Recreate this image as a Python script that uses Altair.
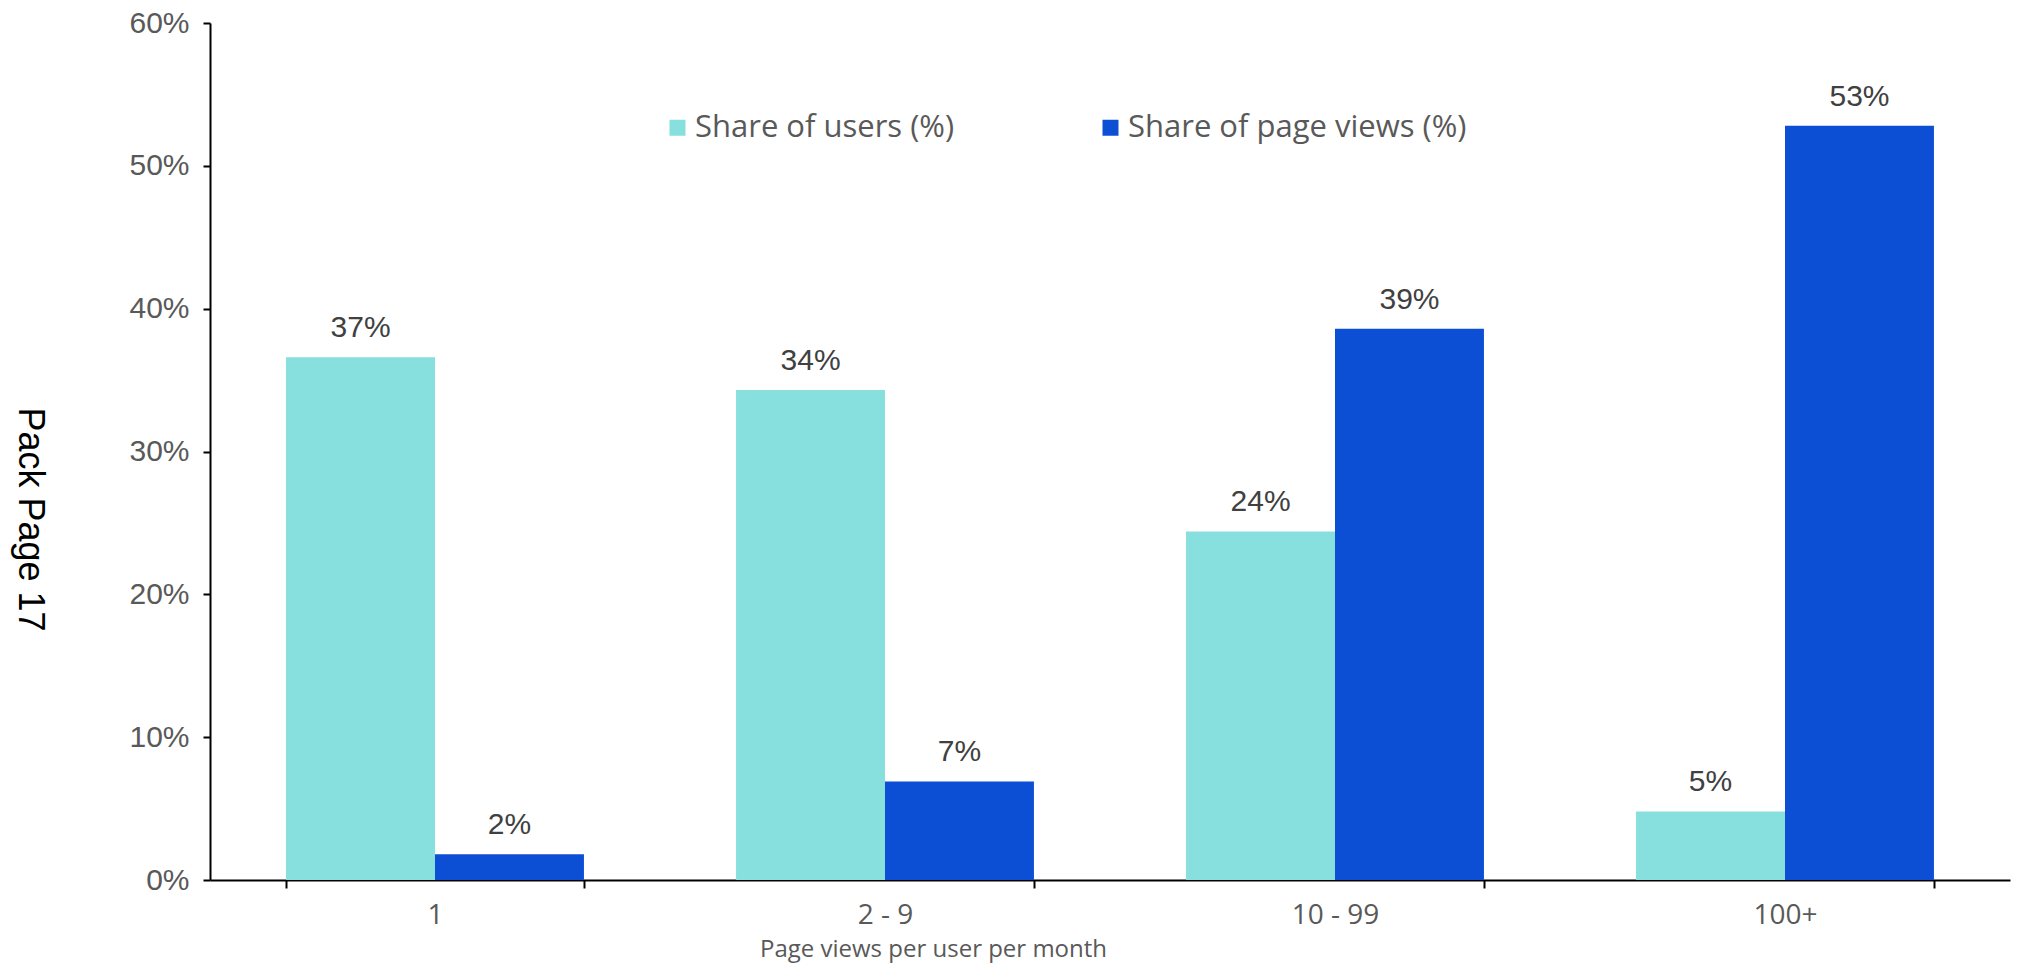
import altair as alt
import pandas as pd

categories = ["1", "2 - 9", "10 - 99", "100+"]
series_names = ["Share of users (%)", "Share of page views (%)"]
users_share = [0.366, 0.343, 0.244, 0.048]
views_share = [0.018, 0.069, 0.386, 0.528]
y_ticks = [0, 0.1, 0.2, 0.3, 0.4, 0.5, 0.6]

rows = []
for c, u, v in zip(categories, users_share, views_share):
    rows.append({"cat": c, "series": series_names[0], "value": u})
    rows.append({"cat": c, "series": series_names[1], "value": v})
df = pd.DataFrame(rows)

colors = ["#87dfde", "#0c4fd4"]

x_enc = alt.X(
    "cat:N",
    sort=categories,
    scale=alt.Scale(paddingInner=0.338, paddingOuter=0.169),
    axis=alt.Axis(
        title="Page views per user per month",
        titleFont="Open Sans",
        titleFontSize=24,
        titleFontWeight="normal",
        titleColor="#595959",
        titleX=723,
        titleY=76,
        titleAlign="center",
        titleBaseline="alphabetic",
        labelAngle=0,
        labelFont="Open Sans",
        labelFontSize=28,
        labelColor="#595959",
        labelPadding=13,
        domainColor="#000000",
        domainWidth=2,
        tickColor="#000000",
        tickWidth=2,
        tickSize=8,
        tickBand="extent",
        grid=False,
    ),
)

y_enc = alt.Y(
    "value:Q",
    scale=alt.Scale(domain=[0, 0.6], nice=False),
    axis=alt.Axis(
        values=y_ticks,
        format=".0%",
        title="Pack Page 17",
        titleFont="Liberation Sans",
        titleFontSize=36,
        titleFontWeight="normal",
        titleColor="#000000",
        titleAngle=90,
        titleX=-181,
        titleY=496,
        titleAlign="center",
        titleBaseline="middle",
        labelFont="Liberation Sans",
        labelFontSize=30,
        labelColor="#595959",
        labelPadding=14,
        domainColor="#000000",
        domainWidth=2,
        tickColor="#000000",
        tickWidth=2,
        tickSize=7,
        grid=False,
    ),
)

color_enc = alt.Color(
    "series:N",
    sort=series_names,
    scale=alt.Scale(domain=series_names, range=colors),
    legend=alt.Legend(
        title=None,
        orient="none",
        legendX=452,
        legendY=89,
        direction="horizontal",
        columns=2,
        symbolType="square",
        symbolSize=256,
        symbolStrokeWidth=0,
        labelFont="Open Sans",
        labelFontSize=31,
        labelColor="#595959",
        labelOffset=2,
        columnPadding=140,
        padding=0,
        labelLimit=600,
    ),
)

base = alt.Chart(df).encode(
    x=x_enc,
    xOffset=alt.XOffset("series:N", sort=series_names),
)

bars = base.mark_bar().encode(y=y_enc, color=color_enc)

labels = base.mark_text(
    font="Liberation Sans",
    fontSize=30,
    color="#404040",
    baseline="alphabetic",
    dy=-20,
).encode(
    y=alt.Y("value:Q"),
    text=alt.Text("value:Q", format=".0%"),
)

chart = (
    alt.layer(bars, labels)
    .properties(
        width=1800,
        height=857,
        autosize=alt.AutoSizeParams(type="none"),
        padding={"left": 202, "top": 15, "right": 4, "bottom": 83},
        background="#ffffff",
    )
    .configure_view(stroke=None)
)

chart.save("out.html", embed_options={"renderer": "svg", "actions": False})
